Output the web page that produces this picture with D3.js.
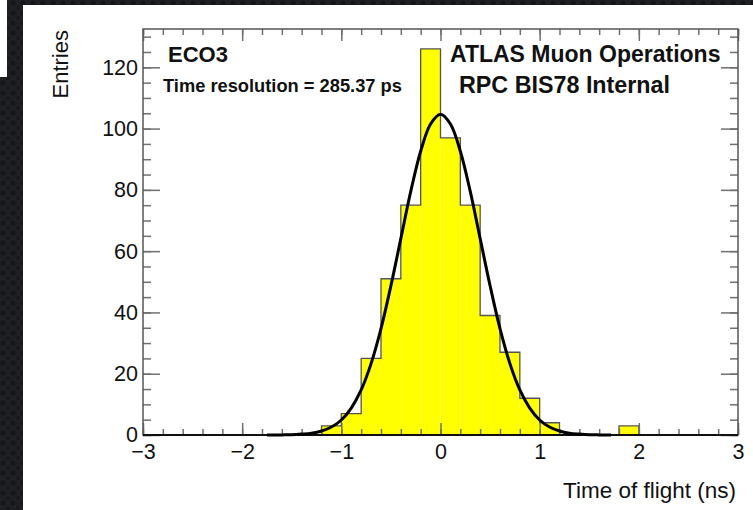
<!DOCTYPE html>
<html>
<head>
<meta charset="utf-8">
<script src="https://cdn.jsdelivr.net/npm/d3@7"></script>
<style>
  html, body { margin: 0; padding: 0; background: #1c1d21; }
  svg { display: block; font-family: "Liberation Sans", Arial, sans-serif; }
</style>
</head>
<body>
<svg id="chart" width="753" height="510"></svg>
<script>
// histogram bins (lower edge, ns) and entries
const binLow = [-1.2, -1.0, -0.8, -0.6, -0.4, -0.2, 0.0, 0.2, 0.4, 0.6, 0.8, 1.0, 1.8];
const binCounts = [3, 7, 25, 51, 75, 126, 97, 75, 39, 27, 12, 4, 3];
const binWidth = 0.2;

// gaussian fit curve
const fitX = [-1.75, -1.7, -1.6, -1.5, -1.4, -1.3, -1.2, -1.1, -1.0, -0.9, -0.8, -0.7, -0.6, -0.5, -0.4, -0.3, -0.2, -0.1, 0.0,
              0.1, 0.2, 0.3, 0.4, 0.5, 0.6, 0.7, 0.8, 0.9, 1.0, 1.1, 1.2, 1.3, 1.4, 1.5, 1.6, 1.72];
const fitY = [0.0, 0.0, 0.04, 0.1, 0.3, 0.6, 1.3, 2.6, 4.9, 8.8, 14.7, 23.3, 34.7, 48.7, 64.1, 79.5, 92.6, 101.5, 104.7,
              101.5, 92.6, 79.5, 64.1, 48.7, 34.7, 23.3, 14.7, 8.8, 4.9, 2.6, 1.3, 0.6, 0.3, 0.1, 0.04, 0.0];

const xTicks = [-3, -2, -1, 0, 1, 2, 3];
const yTicks = [0, 20, 40, 60, 80, 100, 120];
const xTitle = "Time of flight (ns)";
const yTitle = "Entries";
const labelsLeft = ["ECO3", "Time resolution = 285.37 ps"];
const labelsRight = ["ATLAS Muon Operations", "RPC BIS78 Internal"];

const svg = d3.select("#chart");

// slide background with dots
const defs = svg.append("defs");
const pat = defs.append("pattern")
  .attr("id", "dots").attr("width", 10).attr("height", 10)
  .attr("patternUnits", "userSpaceOnUse");
pat.append("rect").attr("width", 10).attr("height", 10).attr("fill", "#1e2024");
pat.append("circle").attr("cx", 3).attr("cy", 3).attr("r", 2.6).attr("fill", "#15161a");
pat.append("circle").attr("cx", 8).attr("cy", 8).attr("r", 2.2).attr("fill", "#18191d");

svg.append("rect").attr("width", 753).attr("height", 510).attr("fill", "url(#dots)");
svg.append("rect").attr("x", 0).attr("y", 0).attr("width", 7).attr("height", 77).attr("fill", "#fff");
svg.append("rect").attr("x", 23).attr("y", 5).attr("width", 730).attr("height", 505).attr("fill", "#fff");

const frame = { left: 143, right: 738, top: 29, bottom: 435 };

const x = d3.scaleLinear().domain([-3, 3]).range([frame.left, frame.right]);
const y = d3.scaleLinear().domain([0, 132.5]).range([frame.bottom, frame.top]);

// histogram fill
const bins = binLow.map((lo, i) => ({ lo, n: binCounts[i] }));
svg.append("g").selectAll("rect")
  .data(bins)
  .join("rect")
  .attr("x", d => x(d.lo))
  .attr("y", d => y(d.n))
  .attr("width", d => x(d.lo + binWidth) - x(d.lo))
  .attr("height", d => y(0) - y(d.n))
  .attr("fill", "#ffff00");

// histogram outline over full range
const nBins = Math.round(6 / binWidth);
const steps = d3.range(nBins).map(k => {
  const lo = -3 + k * binWidth;
  const idx = binLow.findIndex(b => Math.abs(b - lo) < 1e-6);
  return [lo, idx >= 0 ? binCounts[idx] : 0];
});
steps.push([3, 0]);
svg.append("path")
  .datum(steps)
  .attr("fill", "none")
  .attr("stroke", "#555")
  .attr("stroke-width", 1.3)
  .attr("d", d3.line().x(d => x(d[0])).y(d => y(d[1])).curve(d3.curveStepAfter));

// axes
const tickStyle = g => {
  g.select(".domain").remove();
  g.selectAll(".tick line").attr("stroke", "#707070").attr("stroke-width", 1.5);
  g.selectAll(".tick text").attr("fill", "#111").style("font-size", "21.5px")
    .style("font-family", "'Liberation Sans', Arial, sans-serif");
};
const xMinor = d3.range(-3, 3.0001, 0.2).map(v => +v.toFixed(1));
const yMinor = d3.range(0, 131, 5);

svg.append("g").attr("transform", `translate(0,${frame.bottom})`)
  .call(d3.axisBottom(x).tickValues(xMinor).tickSize(-6).tickFormat(""))
  .call(tickStyle);
svg.append("g").attr("transform", `translate(0,${frame.bottom})`)
  .call(d3.axisBottom(x).tickValues(xTicks).tickSize(-12).tickPadding(8.5).tickFormat(d3.format("d")))
  .call(tickStyle);
svg.append("g").attr("transform", `translate(0,${frame.top})`)
  .call(d3.axisTop(x).tickValues(xMinor).tickSize(-6).tickFormat(""))
  .call(tickStyle);
svg.append("g").attr("transform", `translate(0,${frame.top})`)
  .call(d3.axisTop(x).tickValues(xTicks).tickSize(-12).tickFormat(""))
  .call(tickStyle);

svg.append("g").attr("transform", `translate(${frame.left},0)`)
  .call(d3.axisLeft(y).tickValues(yMinor).tickSize(-8).tickFormat(""))
  .call(tickStyle);
svg.append("g").attr("transform", `translate(${frame.left},0)`)
  .call(d3.axisLeft(y).tickValues(yTicks).tickSize(-17).tickPadding(5))
  .call(tickStyle);
svg.append("g").attr("transform", `translate(${frame.right},0)`)
  .call(d3.axisRight(y).tickValues(yMinor).tickSize(-8).tickFormat(""))
  .call(tickStyle);
svg.append("g").attr("transform", `translate(${frame.right},0)`)
  .call(d3.axisRight(y).tickValues(yTicks).tickSize(-17).tickFormat(""))
  .call(tickStyle);

// frame
svg.append("rect")
  .attr("x", frame.left).attr("y", frame.top)
  .attr("width", frame.right - frame.left).attr("height", frame.bottom - frame.top)
  .attr("fill", "none").attr("stroke", "#555").attr("stroke-width", 1.5);
svg.append("line")
  .attr("x1", frame.left).attr("x2", frame.right).attr("y1", frame.bottom).attr("y2", frame.bottom)
  .attr("stroke", "#111").attr("stroke-width", 2.2);

// fit curve
svg.append("path")
  .datum(fitX.map((v, i) => [v, fitY[i]]))
  .attr("fill", "none")
  .attr("stroke", "#000")
  .attr("stroke-width", 3)
  .attr("d", d3.line().x(d => x(d[0])).y(d => y(d[1])).curve(d3.curveCatmullRom));

// titles
svg.append("text")
  .attr("transform", "translate(68,30) rotate(-90)")
  .attr("text-anchor", "end")
  .style("font-size", "22px")
  .attr("fill", "#111")
  .text(yTitle);
svg.append("text")
  .attr("x", 736).attr("y", 498)
  .attr("text-anchor", "end")
  .style("font-size", "22.5px")
  .attr("fill", "#111")
  .text(xTitle);

// labels
svg.append("text").attr("x", 168).attr("y", 62)
  .style("font-size", "22px").style("font-weight", "bold").attr("fill", "#111")
  .text(labelsLeft[0]);
svg.append("text").attr("x", 163).attr("y", 92)
  .style("font-size", "18.3px").style("font-weight", "bold").attr("fill", "#111")
  .text(labelsLeft[1]);
svg.append("text").attr("x", 450).attr("y", 62)
  .style("font-size", "23px").style("font-weight", "bold").attr("fill", "#111")
  .text(labelsRight[0]);
svg.append("text").attr("x", 459).attr("y", 93)
  .style("font-size", "23.3px").style("font-weight", "bold").attr("fill", "#111")
  .text(labelsRight[1]);
</script>
</body>
</html>
